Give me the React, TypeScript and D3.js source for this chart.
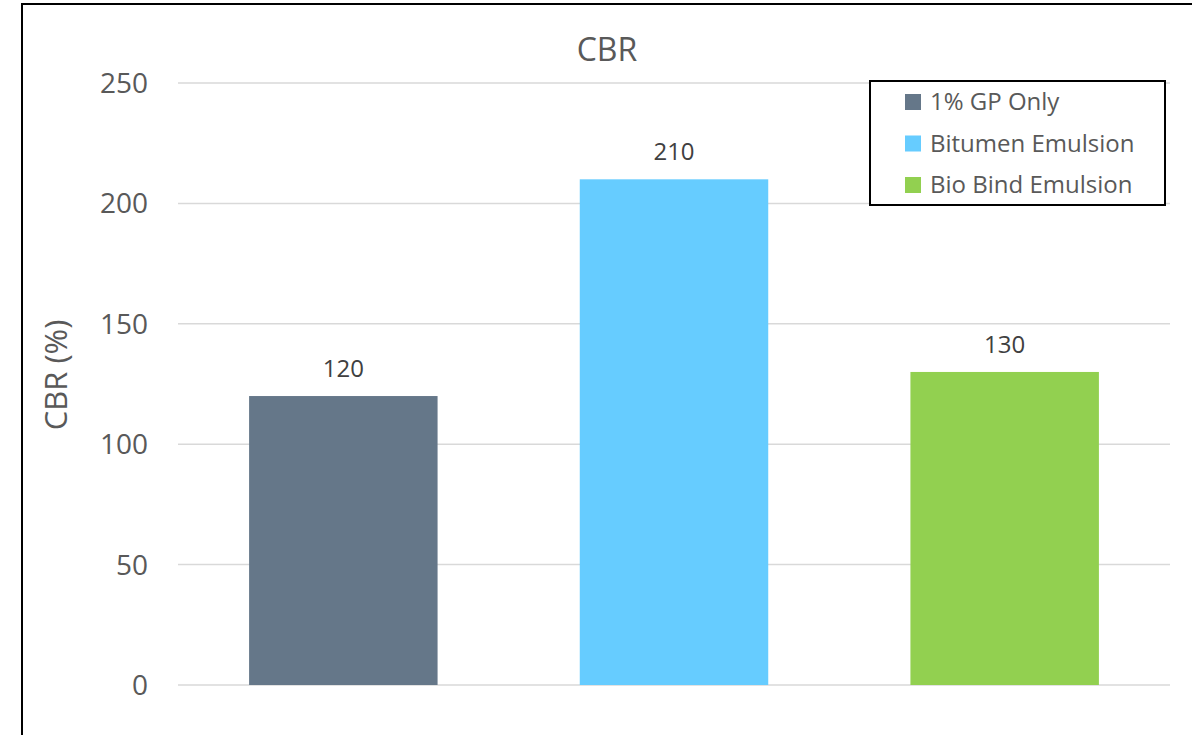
import React from "react";
import * as d3 from "d3";

const categories = ["1% GP Only", "Bitumen Emulsion", "Bio Bind Emulsion"];
const values = [120, 210, 130];
const colors = ["#657789", "#66CCFF", "#92D050"];
const yTicks = [0, 50, 100, 150, 200, 250];

export default function App() {
  const W = 1192, H = 735;
  const left = 178, right = 1170, top = 83, bottom = 685;
  const x = d3.scaleBand<string>().domain(categories).range([left, right]).paddingInner(0.43).paddingOuter(0.215);
  const y = d3.scaleLinear().domain([0, 250]).range([bottom, top]);
  const font = "'Open Sans', sans-serif";
  return (
    <svg width={W} height={H} style={{ position: "absolute", left: 0, top: 0 }}>
      <rect x={0} y={0} width={W} height={H} fill="#fff" />
      <rect x={22} y={4} width={1180} height={760} fill="none" stroke="#000" strokeWidth={2} />
      <text x={607} y={61} textAnchor="middle" fontFamily={font} fontSize={32} fill="#595959">CBR</text>
      {yTicks.map(t => (
        <g key={t}>
          <line x1={left} x2={right} y1={y(t)} y2={y(t)} stroke="#d9d9d9" strokeWidth={1.5} />
          <text x={148} y={y(t) + 10} textAnchor="end" fontFamily={font} fontSize={28} fill="#595959">{t}</text>
        </g>
      ))}
      <text transform={`translate(67,${375}) rotate(-90)`} textAnchor="middle" fontFamily={font} fontSize={31} fill="#595959">CBR (%)</text>
      {categories.map((c, i) => (
        <g key={c}>
          <rect x={x(c)} y={y(values[i])} width={x.bandwidth()} height={bottom - y(values[i])} fill={colors[i]} />
          <text x={(x(c) as number) + x.bandwidth() / 2} y={y(values[i]) - 19} textAnchor="middle" fontFamily={font} fontSize={24} fill="#404040">{values[i]}</text>
        </g>
      ))}
      <rect x={870} y={81} width={295} height={124} fill="#fff" stroke="#000" strokeWidth={2} />
      {categories.map((c, i) => (
        <g key={c}>
          <rect x={905} y={94 + i * 41.5} width={16} height={16} fill={colors[i]} />
          <text x={930} y={110 + i * 41.5} fontFamily={font} fontSize={24} fill="#595959">{c}</text>
        </g>
      ))}
    </svg>
  );
}
